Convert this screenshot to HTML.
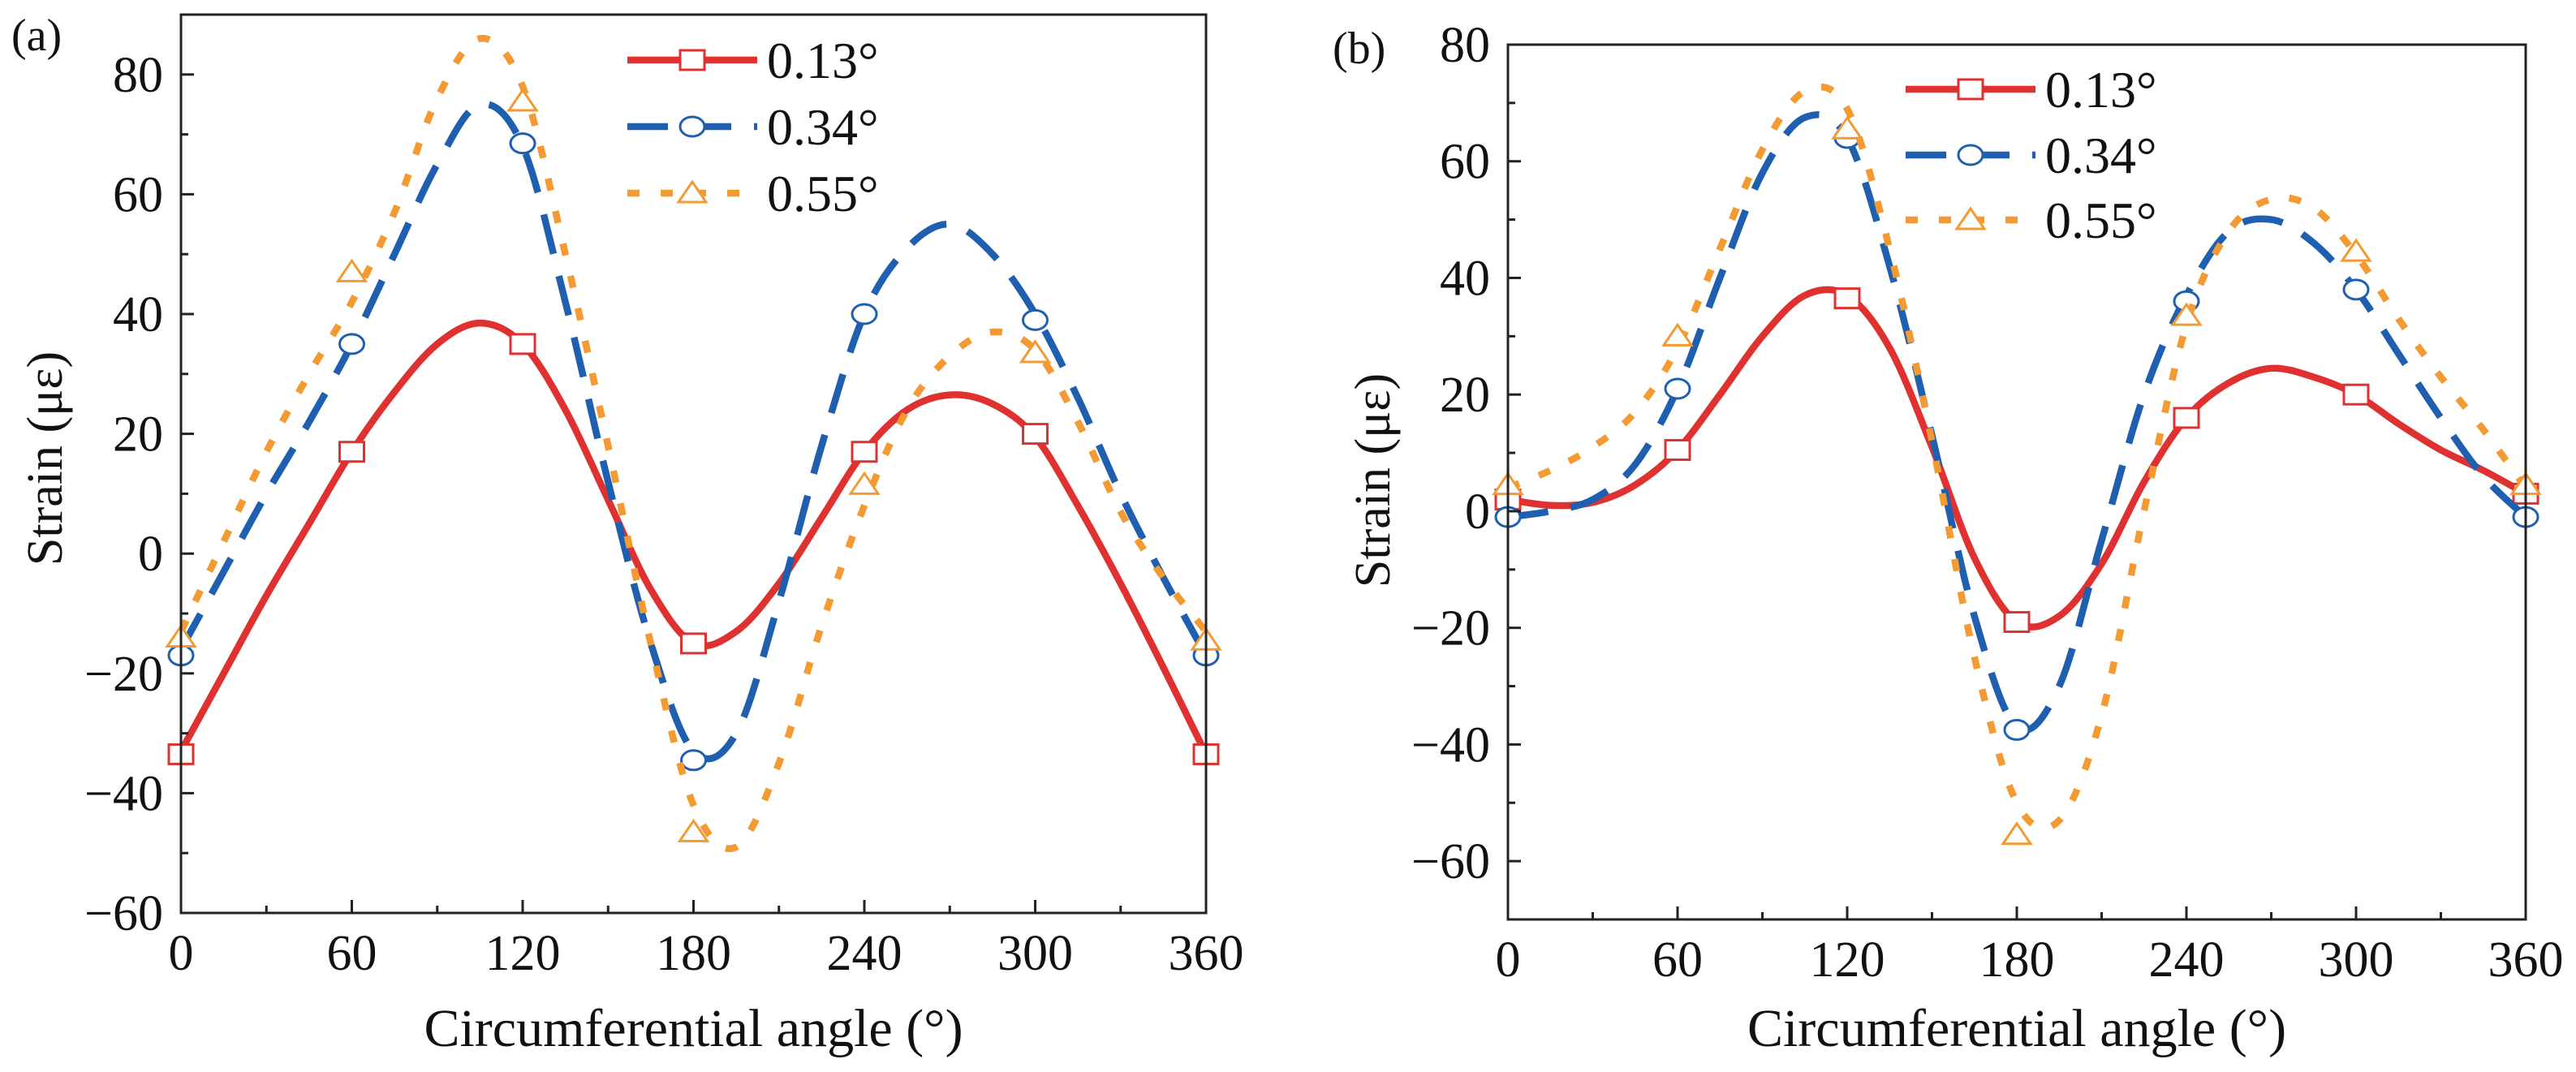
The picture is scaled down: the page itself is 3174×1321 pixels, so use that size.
<!DOCTYPE html>
<html><head><meta charset="utf-8"><style>
html,body{margin:0;padding:0;background:#fff;}
svg{display:block;}
svg text{font-family:"Liberation Serif","DejaVu Serif",serif;}
</style></head><body>
<svg id="fig" width="3174" height="1321" viewBox="0 0 3174 1321"></svg>
<script>
const angles=[0,15,30,45,60,75,90,105,120,135,150,165,180,195,210,225,240,255,270,285,300,315,330,345,360];
const markerAngles=[0,60,120,180,240,300,360];
const seriesNames=["0.13°","0.34°","0.55°"];
const xTicks=[0,60,120,180,240,300,360];
const yTicksA=[-60,-40,-20,0,20,40,60,80];
const yTicksB=[-60,-40,-20,0,20,40,60,80];
// panel a curves
const aRed=[-33,-20,-7,5,17,27,35,38.5,35,24,9,-6,-15,-13,-5,6,17,24,26.5,25,19.5,8,-5,-19,-33.5];
const aBlue=[-16,-3,10,22,35,50,65,75,68,42,12,-15,-33,-30,-8,18,40,51,55,50,40,26,10,-4,-17];
const aOrange=[-13,2,17,30,42,57,76,86,78,50,18,-15,-42,-49,-35,-12,8,24,33,37,34,22,7,-4,-13];
const aRedM=[-33.5,17,35,-15,17,20,-33.5];
const aBlueM=[-17,35,68.5,-34.5,40,39,-17];
const aOrangeM=[-14,47,75.5,-46.5,11.5,33.5,-14.5];
// panel b curves
const bRed=[2,1,1.5,4.5,10.5,20,30,37,37,28,11,-8,-19,-18,-9,5,16,22,24.5,23,20,15,10.5,7,3];
const bBlue=[-1,0,2,8,21,40,58,67.5,64,42,13,-18,-37,-30,-5,20,37,48,50,46,38,27,16,6,-1];
const bOrange=[4,7,11,17,28,45,62,72,69,45,12,-25,-50,-53,-35,0,32,48,53.5,52,44,33,23,14,4];
const bRedM=[2,10.5,36.5,-19,16,20,3];
const bBlueM=[-1,21,64,-37.5,36,38,-1];
const bOrangeM=[4.5,30,65.5,-55.5,33.5,44.5,4.5];

const NS="http://www.w3.org/2000/svg";
const svg=document.getElementById('fig');
const FONT='"Liberation Serif","DejaVu Serif",serif';
function mk(tag,attrs,parent){const e=document.createElementNS(NS,tag);for(const k in attrs)e.setAttribute(k,attrs[k]);if(tag==='text')e.setAttribute('font-family',FONT);(parent||svg).appendChild(e);return e;}
const colors=["#e03131","#1f5fb0","#f39a33"];
const dashes=[null,"50 28","15 26"];

function smoothPath(pts){
  let d="M"+pts[0][0]+","+pts[0][1];
  for(let i=0;i<pts.length-1;i++){
    const p0=pts[Math.max(0,i-1)],p1=pts[i],p2=pts[i+1],p3=pts[Math.min(pts.length-1,i+2)];
    const c1=[p1[0]+(p2[0]-p0[0])/6,p1[1]+(p2[1]-p0[1])/6];
    const c2=[p2[0]-(p3[0]-p1[0])/6,p2[1]-(p3[1]-p1[1])/6];
    d+=" C"+c1[0]+","+c1[1]+" "+c2[0]+","+c2[1]+" "+p2[0]+","+p2[1];
  }
  return d;
}
function marker(g,type,cx,cy,color){
  let m;
  if(type===0){m=mk('rect',{x:cx-15,y:cy-12,width:30,height:24,fill:'#fff',stroke:color,'stroke-width':3},g);}
  else if(type===1){m=mk('ellipse',{cx:cx,cy:cy,rx:15,ry:12,fill:'#fff',stroke:color,'stroke-width':3},g);}
  else {m=mk('polygon',{points:(cx-17)+","+(cy+11)+" "+(cx+17)+","+(cy+11)+" "+cx+","+(cy-14),fill:'#fff',stroke:color,'stroke-width':3},g);}
  return m;
}

function panel(cfg){
  const {id,x0,x1,yTop,yBot,ymin,ymax,yTicks,curves,marks,label,labelX,labelY,yTitleX,yTitleY,leg}=cfg;
  const g=mk('g',{});
  
  
  const X=v=>x0+(v/360)*(x1-x0);
  const Y=v=>yBot-(v-ymin)/(ymax-ymin)*(yBot-yTop);
  for(let s=0;s<3;s++){
    const pts=angles.map((a,i)=>[X(a),Y(curves[s][i])]);
    const p=mk('path',{d:smoothPath(pts),fill:'none',stroke:colors[s],'stroke-width':8.5,'stroke-linecap':'butt'},g);
    if(dashes[s])p.setAttribute('stroke-dasharray',dashes[s]);
    
    
    markerAngles.forEach((a,i)=>{
      const m=marker(g,s,X(a),Y(marks[s][i]),colors[s]);
      
      
    });
  }
  const fr=mk('rect',{x:x0,y:yTop,width:x1-x0,height:yBot-yTop,fill:'none',stroke:'#222','stroke-width':3},g);
  
  
  xTicks.forEach(t=>{
    mk('line',{x1:X(t),x2:X(t),y1:yBot,y2:yBot-16,stroke:'#222','stroke-width':3},g);
    if(t<360)mk('line',{x1:X(t+30),x2:X(t+30),y1:yBot,y2:yBot-9,stroke:'#222','stroke-width':3},g);
    const tx=mk('text',{x:X(t),y:yBot+70,'text-anchor':'middle','font-size':62,fill:'#111'},g);
    tx.textContent=t;
    
    
  });
  for(let v=ymin;v<=ymax;v+=10){
    const major=(v%20===0);
    mk('line',{x1:x0,x2:x0+(major?16:9),y1:Y(v),y2:Y(v),stroke:'#222','stroke-width':3},g);
  }
  yTicks.forEach(v=>{
    const tx=mk('text',{x:x0-22,y:Y(v)+21,'text-anchor':'end','font-size':62,fill:'#111'},g);
    tx.textContent=(v<0?"\u2212"+(-v):v);
    
    
  });
  const xt=mk('text',{x:(x0+x1)/2,y:1289,'text-anchor':'middle','font-size':66,fill:'#111'},g);
  xt.textContent="Circumferential angle (°)";
  
  
  const yt=mk('text',{x:0,y:0,'text-anchor':'middle','font-size':62,fill:'#111',transform:`translate(${yTitleX},${yTitleY}) rotate(-90)`},g);
  yt.textContent="Strain (με)";
  
  
  const pl=mk('text',{x:labelX,y:labelY,'font-size':56,fill:'#111'},g);
  pl.textContent=label;
  
  
  for(let s=0;s<3;s++){
    const ly=leg.ys[s];
    const l=mk('line',{x1:leg.x0,x2:leg.x1,y1:ly,y2:ly,stroke:colors[s],'stroke-width':8.5},g);
    if(dashes[s])l.setAttribute('stroke-dasharray',dashes[s]);
    
    
    const m=marker(g,s,(leg.x0+leg.x1)/2,ly,colors[s]);
    
    
    const t=mk('text',{x:leg.tx,y:ly+22,'font-size':64,fill:'#111'},g);
    t.textContent=seriesNames[s];
    
    
  }
}
panel({id:'a',x0:223,x1:1486,yTop:18,yBot:1125,ymin:-60,ymax:90,yTicks:yTicksA,
  curves:[aRed,aBlue,aOrange],marks:[aRedM,aBlueM,aOrangeM],label:"(a)",labelX:14,labelY:62,
  yTitleX:76,yTitleY:565,leg:{x0:773,x1:933,tx:945,ys:[74,156,238]}});
panel({id:'b',x0:1858,x1:3112,yTop:55,yBot:1133,ymin:-70,ymax:80,yTicks:yTicksB,
  curves:[bRed,bBlue,bOrange],marks:[bRedM,bBlueM,bOrangeM],label:"(b)",labelX:1642,labelY:78,
  yTitleX:1712,yTitleY:592,leg:{x0:2348,x1:2508,tx:2520,ys:[110,191,271]}});
</script>
</body></html>
